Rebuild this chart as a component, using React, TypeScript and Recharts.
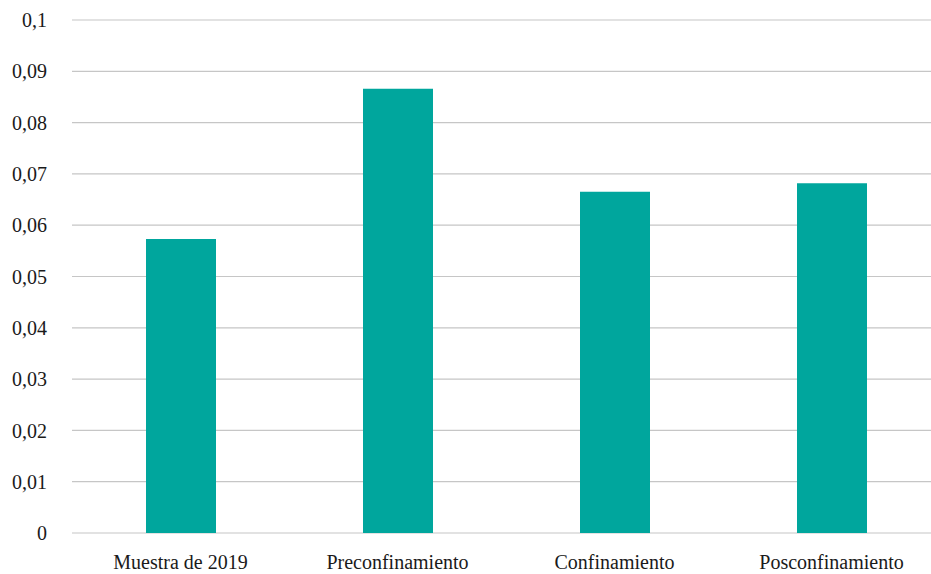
import React from 'react'
import { BarChart, Bar, XAxis, YAxis, CartesianGrid } from 'recharts'

const categories = ['Muestra de 2019', 'Preconfinamiento', 'Confinamiento', 'Posconfinamiento']
const values = [0.0573, 0.0866, 0.0665, 0.0682]
const yTicks = [0, 0.01, 0.02, 0.03, 0.04, 0.05, 0.06, 0.07, 0.08, 0.09, 0.1]
const yTickLabels = ['0', '0,01', '0,02', '0,03', '0,04', '0,05', '0,06', '0,07', '0,08', '0,09', '0,1']

const chartData = categories.map((name, i) => ({ name, value: values[i] }))

const FONT = '"Liberation Serif", "DejaVu Serif", serif'

export default function App() {
  return (
    <div style={{ position: 'absolute', left: 0, top: 0, width: 931, height: 574, overflow: 'hidden', background: '#fff' }}>
      <BarChart
        width={940}
        height={574}
        data={chartData}
        margin={{ top: 20, right: 0, bottom: 0, left: 0 }}
        barSize={70}
      >
        <CartesianGrid horizontal vertical={false} stroke="#c6c6c6" strokeWidth={1.2} />
        <XAxis
          dataKey="name"
          height={41}
          axisLine={false}
          tickLine={false}
          tickSize={0}
          tickMargin={22}
          interval={0}
          tick={{ fill: '#1a1a1a', fontSize: 20, fontFamily: FONT }}
        />
        <YAxis
          width={72}
          domain={[0, 0.1]}
          ticks={yTicks}
          interval={0}
          axisLine={false}
          tickLine={false}
          tickSize={0}
          tickMargin={25}
          tickFormatter={(v: number) => yTickLabels[yTicks.indexOf(v)] ?? String(v).replace('.', ',')}
          tick={{ fill: '#1a1a1a', fontSize: 20, fontFamily: FONT }}
        />
        <Bar dataKey="value" fill="#00a69d" isAnimationActive={false} />
      </BarChart>
    </div>
  )
}
